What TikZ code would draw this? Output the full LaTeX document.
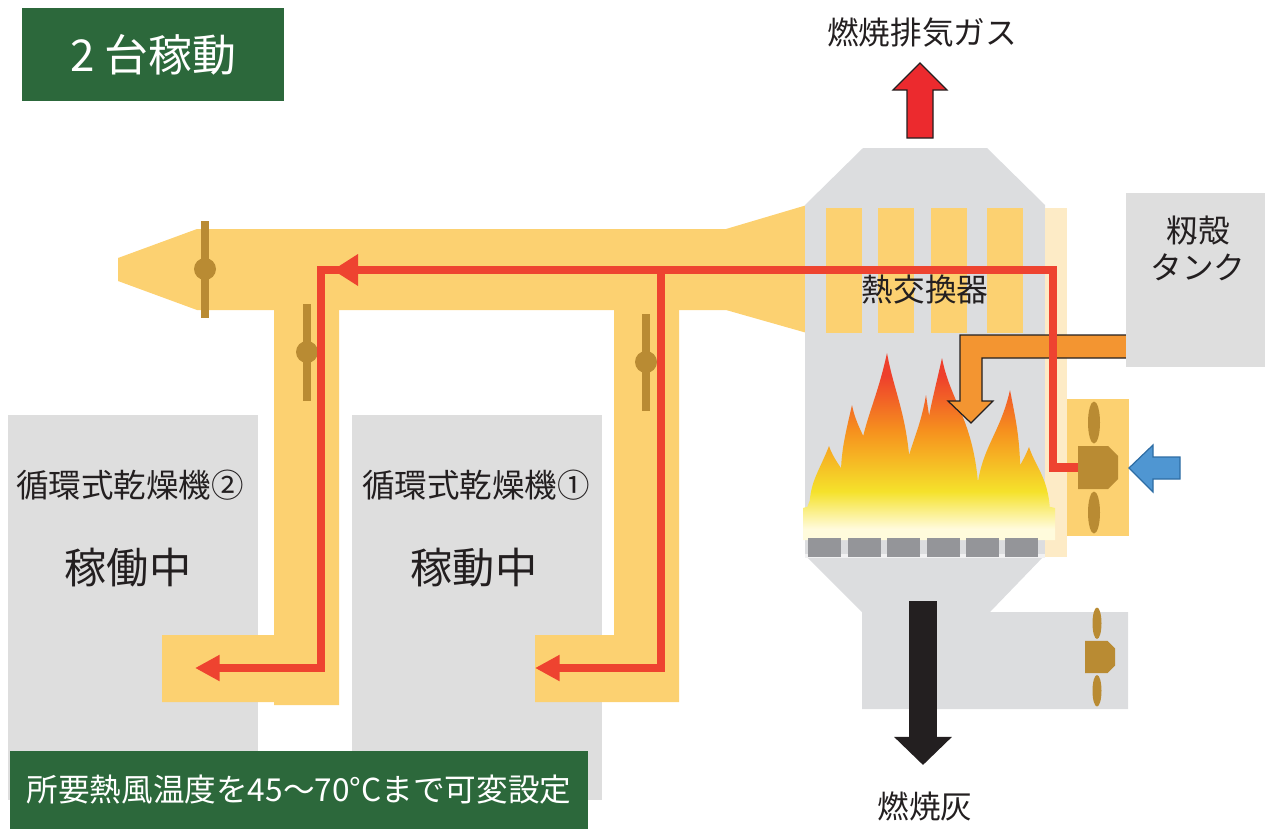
\documentclass[tikz,border=0pt]{standalone}
\usepackage{fontspec}
\setmainfont{Noto Sans CJK JP}
\usetikzlibrary{arrows.meta}

\definecolor{panelgreen}{HTML}{2C683B}
\definecolor{ductyellow}{HTML}{FCD171}
\definecolor{ductpale}{HTML}{FDEBC6}
\definecolor{bodygrey}{HTML}{DCDDDF}
\definecolor{boxgrey}{HTML}{DEDEDE}
\definecolor{grategrey}{HTML}{949599}
\definecolor{flowred}{HTML}{EE4330}
\definecolor{valvegold}{HTML}{B98B33}
\definecolor{huskorange}{HTML}{F39531}
\definecolor{exhaustred}{HTML}{EC2A2E}
\definecolor{inkdark}{HTML}{231F20}
\definecolor{airblue}{HTML}{4F96D2}
\definecolor{airblueline}{HTML}{2E6DA4}
\definecolor{flamered}{HTML}{EE3F2C}
\definecolor{flameorange}{HTML}{F6921E}
\definecolor{flameyellow}{HTML}{F5E22B}
\definecolor{flamepale}{HTML}{FFFBDC}

\pgfdeclareverticalshading{flame}{100bp}{color(0bp)=(flamepale); color(28bp)=(flamepale); color(38bp)=(flameyellow); color(54bp)=(flameorange); color(69bp)=(flamered); color(100bp)=(flamered)}

% tip x, tip y, base x, half width, base y
\newcommand\flametongue[5]{({#3-#4},#5) .. controls ({#3-1.15*#4},{#5-0.55*(#5-#2)}) and ({#1-0.55*#4},{#2+0.4*(#5-#2)}) .. (#1,#2) .. controls ({#1+0.35*#4},{#2+0.3*(#5-#2)}) and ({#3+1.1*#4},{#5-0.6*(#5-#2)}) .. ({#3+#4},#5) -- cycle}

\begin{document}
\begin{tikzpicture}[x=0.02cm, y=-0.02cm,
  caption/.style={text=inkdark, inner sep=0pt, font=\fontsize{18}{21}\selectfont},
  machine/.style={fill=boxgrey, inner sep=0pt},
  banner/.style={fill=panelgreen, text=white, inner sep=0pt},
  hotair/.style={draw=flowred, line width=5pt, line join=miter, -{Triangle[length=14pt,width=14pt]}},
  outlined/.style={draw=inkdark, line width=0.7pt},
  fan/.pic={
    \fill[valvegold] (-20,-21.5) -- (10,-21.5) -- (20,-11.5) -- (20,11.5) -- (10,21.5) -- (-20,21.5) -- cycle;
    \fill[valvegold] (-4,-45) ellipse [x radius=6, y radius=21];
    \fill[valvegold] (-4,45) ellipse [x radius=6, y radius=21];
    \coordinate (-in) at (-20,0);
  },
  damper/.pic={
    \fill[valvegold] (-4,-48.5) rectangle (4,48.5);
    \fill[valvegold] (0,0) circle [radius=11];
  }]
  \useasboundingbox (0,0) rectangle (1265,829);

  \node[machine, minimum width=5cm, minimum height=7.7cm] (dryerB) at (133,607.5) {};
  \node[machine, minimum width=5cm, minimum height=7.7cm] (dryerA) at (477,607.5) {};

  \fill[ductyellow] (118,258) -- (197,229) -- (726,229) -- (807,205) -- (807,333) -- (726,310) -- (197,310) -- (118,281) -- cycle;
  \fill[ductyellow] (274,305) rectangle (339,705) (162,635) rectangle (274,702);
  \fill[ductyellow] (614,305) rectangle (679,702) (535,635) rectangle (614,702);

  \fill[bodygrey] (863,148) -- (987,148) -- (1045,205) -- (1045,555) -- (990,612) -- (1128,612) -- (1128,709) -- (862,709) -- (862,612) -- (805,555) -- (805,205) -- cycle;
  \foreach \sx in {826,878,931,987}
    \fill[ductyellow] (\sx,208) rectangle ++(36,125);
  \fill[ductpale] (1045,208) rectangle (1067,557);
  \fill[ductyellow] (1067,399) rectangle (1129,536);

  \shade[shading=flame]
    \flametongue{829}{446}{834}{24}{530}
    \flametongue{852}{405}{862}{20}{525}
    \flametongue{887}{353}{884}{27}{525}
    \flametongue{926}{395}{918}{16}{525}
    \flametongue{942}{358}{952}{27}{525}
    \flametongue{1010}{390}{998}{22}{525}
    \flametongue{1029}{447}{1026}{24}{530}
    \flametongue{818}{478}{816}{12}{540}
    \flametongue{846}{470}{842}{13}{540}
    \flametongue{872}{482}{868}{13}{540}
    \flametongue{900}{468}{895}{13}{540}
    \flametongue{927}{480}{922}{13}{540}
    \flametongue{955}{470}{950}{13}{540}
    \flametongue{982}{482}{977}{13}{540}
    \flametongue{1008}{472}{1004}{13}{540}
    \flametongue{1036}{480}{1032}{13}{540}
    (803,540) -- (803,508) .. controls (830,498) and (1020,498) .. (1055,508) -- (1055,540) -- cycle;
  \fill[white!60!bodygrey] (805,554) rectangle (1045,558);
  \foreach \gx in {808,848,887,927,966,1005}
    \fill[grategrey] (\gx,538) rectangle ++(33,19);

  \filldraw[fill=huskorange, outlined] (1130,335) -- (960,335) -- (960,401) -- (948,401) -- (971,423) -- (993,401) -- (982,401) -- (982,358) -- (1130,358) -- cycle;
  \node[machine, minimum width=2.78cm, minimum height=3.48cm] (tank) at (1195.5,280) {};

  \pic (damperMain) at (205,269) {damper};
  \pic (damperB) at (307,352) {damper};
  \pic (damperA) at (646,362) {damper};

  \pic (fanA) at (1098,467.5) {fan};
  \pic[scale=0.75] (fanB) at (1100,657) {fan};

  \coordinate (rUp) at (1053,270);
  \coordinate (rJoin) at (661,270);
  \coordinate (rLeft) at (321,270);
  \coordinate (dryerBin) at (195,668);
  \coordinate (dryerAin) at (535,668);
  \draw[hotair] (fanA-in) -| (rUp) -- (rLeft) |- (dryerBin);
  \draw[hotair] (rJoin) |- (dryerAin);
  \fill[flowred] (rLeft) ++(12,0) -- ++(25,-16) -- ++(0,32) -- cycle;

  \filldraw[fill=airblue, draw=airblueline, line width=0.7pt] (1180,457) -- (1153,457) -- (1153,445) -- (1129,468) -- (1153,492) -- (1153,479) -- (1180,479) -- cycle;
  \filldraw[fill=exhaustred, outlined, shift={(920,138)}] (-13,0) -- (-13,-48) -- (-27,-48) -- (0,-75) -- (27,-48) -- (13,-48) -- (13,0) -- cycle;
  \coordinate (ashtop) at (923,601);
  \coordinate (ashtip) at (923,765);
  \draw[inkdark, line width=16.4pt, -{Triangle[length=16pt,width=32pt]}] (ashtop) -- (ashtip);

  \node[caption] (exhaust) at (922,33) {燃焼排気ガス};
  \node[caption] (hxname) at (925,290) {熱交換器};
  \node[caption, align=center] (tankname) at (1198,248.5) {籾殻\\タンク};
  \node[caption] (ashname) at (925,806) {燃焼灰};
  \node[caption, font=\fontsize{18.5}{21}\selectfont] (dryerBname) at (130,485) {循環式乾燥機②};
  \node[caption, font=\fontsize{24}{28}\selectfont] (dryerBstate) at (128,568) {稼働中};
  \node[caption, font=\fontsize{18.5}{21}\selectfont] (dryerAname) at (476,485) {循環式乾燥機①};
  \node[caption, font=\fontsize{24}{28}\selectfont] (dryerAstate) at (474,568) {稼動中};

  \node[banner, minimum width=5.24cm, minimum height=1.86cm, font=\fontsize{25}{30}\selectfont] (title) at (153,54.5) {2 台稼動};
  \node[banner, minimum width=11.56cm, minimum height=1.56cm, font=\fontsize{18}{21}\selectfont] (setting) at (299,790) {所要熱風温度を45～70°Cまで可変設定};
\end{tikzpicture}
\end{document}
